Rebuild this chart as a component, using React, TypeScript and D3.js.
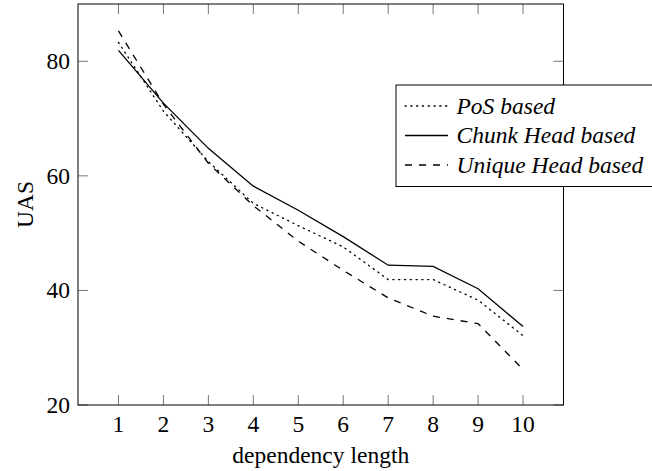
import * as d3 from "d3";
import React from "react";

const lengths = [1, 2, 3, 4, 5, 6, 7, 8, 9, 10];
const posBased = [83.3, 71.3, 62.5, 55.2, 51.3, 47.6, 41.9, 41.9, 38.3, 32.1];
const chunkHeadBased = [81.9, 72.7, 64.8, 58.2, 54.0, 49.4, 44.4, 44.2, 40.3, 33.7];
const uniqueHeadBased = [85.3, 72.5, 62.2, 54.8, 48.6, 43.5, 38.7, 35.5, 34.2, 26.2];
const yTicks = [20, 40, 60, 80];

const series = [
  { name: "PoS based", values: posBased, dash: "1.2 4.6" },
  { name: "Chunk Head based", values: chunkHeadBased, dash: "none" },
  { name: "Unique Head based", values: uniqueHeadBased, dash: "7 7" },
];

const W = 652;
const H = 471;
const left = 78;
const right = 563.5;
const top = 4;
const bottom = 405;
const font = "Liberation Serif, Times New Roman, serif";
const fs = 23.5;
const tickLen = 10;

const App = () => {
  const x = d3.scaleLinear().domain([0.1, 10.9]).range([left, right]);
  const y = d3.scaleLinear().domain([20, 90]).range([bottom, top]);

  const line = d3
    .line<number>()
    .x((d, i) => x(lengths[i]))
    .y((d) => y(d));

  // legend placement
  const lgX = 396;
  const lgY = 85;
  const lgH = 101.5;
  const rowGap = 29.5;
  const txt = { fontFamily: font, fontSize: fs };

  return (
    <svg
      width={W}
      height={H}
      style={{ position: "absolute", left: 0, top: 0, fontFamily: font }}
    >
      <rect x={0} y={0} width={W} height={H} fill="#fff" />

      {/* ticks on all four sides */}
      {lengths.map((t) => (
        <g key={"xt" + t} stroke="#777" strokeWidth={1}>
          <line x1={x(t)} x2={x(t)} y1={bottom} y2={bottom - tickLen} />
          <line x1={x(t)} x2={x(t)} y1={top} y2={top + tickLen} />
        </g>
      ))}
      {yTicks.map((t) => (
        <g key={"yt" + t} stroke="#777" strokeWidth={1}>
          <line x1={left} x2={left + tickLen} y1={y(t)} y2={y(t)} />
          <line x1={right} x2={right - tickLen} y1={y(t)} y2={y(t)} />
        </g>
      ))}

      {/* data lines */}
      {series.map((s) => (
        <path
          key={s.name}
          d={line(s.values) || ""}
          fill="none"
          stroke="#000"
          strokeWidth={1.3}
          strokeDasharray={s.dash}
          strokeLinecap={s.dash === "1.2 4.6" ? "round" : "butt"}
        />
      ))}

      {/* frame */}
      <rect
        x={left}
        y={top}
        width={right - left}
        height={bottom - top}
        fill="none"
        stroke="#000"
        strokeWidth={1}
      />

      {/* tick labels */}
      {lengths.map((t) => (
        <text key={"xl" + t} x={x(t)} y={431.5} style={txt} textAnchor="middle">
          {t}
        </text>
      ))}
      {yTicks.map((t) => (
        <text
          key={"yl" + t}
          x={70}
          y={y(t)}
          dy="0.33em"
          style={txt}
          textAnchor="end"
        >
          {t}
        </text>
      ))}

      {/* axis titles */}
      <text x={(left + right) / 2} y={463} style={txt} textAnchor="middle">
        dependency length
      </text>
      <text
        transform={`translate(33,${(top + bottom) / 2}) rotate(-90)`}
        style={txt}
        textAnchor="middle"
      >
        UAS
      </text>

      {/* legend */}
      <rect x={lgX} y={lgY} width={270} height={lgH} fill="#fff" stroke="#000" strokeWidth={1} />
      {series.map((s, i) => {
        const ry = 106 + i * rowGap;
        return (
          <g key={"lg" + s.name}>
            <line
              x1={405}
              x2={448}
              y1={ry}
              y2={ry}
              stroke="#000"
              strokeWidth={1.3}
              strokeDasharray={s.dash}
              strokeLinecap={s.dash === "1.2 4.6" ? "round" : "butt"}
            />
            <text x={456.5} y={ry} dy="0.33em" style={{ ...txt, fontStyle: "italic" }}>
              {s.name}
            </text>
          </g>
        );
      })}
    </svg>
  );
};

export default App;
